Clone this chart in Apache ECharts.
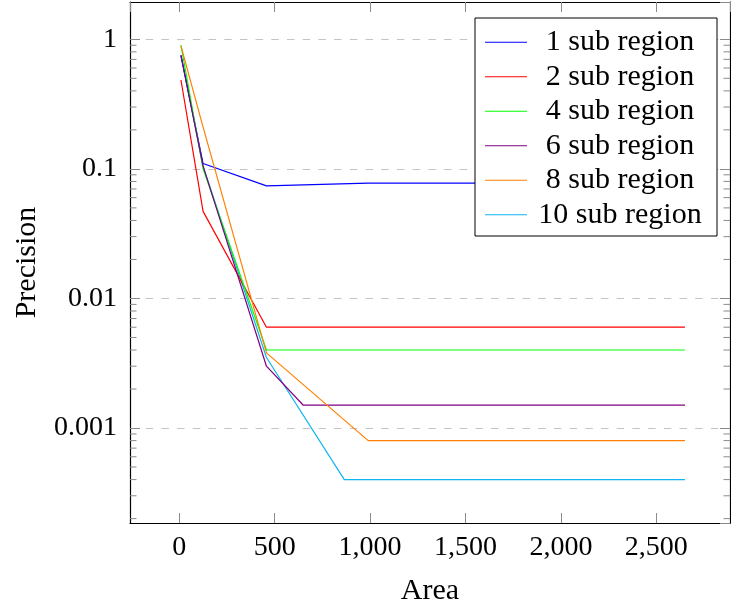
<!DOCTYPE html>
<html>
<head>
<meta charset="utf-8">
<script src="https://cdn.jsdelivr.net/npm/echarts@6/dist/echarts.min.js"></script>
<style>
  html, body { margin: 0; padding: 0; background: #fff; }
  #chart { width: 731px; height: 610px; }
</style>
</head>
<body>
<div id="chart"></div>
<script>
// Precision against window area, one line per number of sub regions
const seriesNames = ['1 sub region', '2 sub region', '4 sub region', '6 sub region', '8 sub region', '10 sub region'];
const seriesColors = ['#0000ff', '#ff0000', '#00ff00', '#800080', '#ff8000', '#10b4f0'];

const area1 = [9, 125, 457, 990, 2650];
const prec1 = [0.75, 0.11, 0.074, 0.0775, 0.0775];

const area2 = [9, 125, 457, 2650];
const prec2 = [0.485, 0.047, 0.006, 0.006];

const area4 = [9, 125, 457, 2650];
const prec4 = [0.9, 0.1, 0.004, 0.004];

const area6 = [9, 125, 457, 650, 2650];
const prec6 = [0.75, 0.105, 0.003, 0.0015, 0.0015];

const area8 = [9, 125, 457, 990, 2650];
const prec8 = [0.89, 0.21, 0.0038, 0.0008, 0.0008];

const area10 = [9, 125, 457, 865, 2650];
const prec10 = [0.75, 0.105, 0.0035, 0.0004, 0.0004];

// Axis ranges
const xMin = -258, xMax = 2886;
const yMin = 0.000185, yMax = 1.94;

// Minor ticks of the log axis: 2..9 within each decade
const minorMultipliers = [2, 3, 4, 5, 6, 7, 8, 9];
const minorDecades = [0.0001, 0.001, 0.01, 0.1, 1];

const FONT = 'Liberation Serif';
const FS = 28;      // tick labels
const FS_TEXT = 30; // axis names and legend entries

const areas = [area1, area2, area4, area6, area8, area10];
const precs = [prec1, prec2, prec4, prec6, prec8, prec10];

function pairs(xs, ys) {
  return xs.map((x, i) => [x, ys[i]]);
}

const minorTicks = [];
minorDecades.forEach(d => minorMultipliers.forEach(m => {
  const v = +(m * d).toPrecision(3);
  if (v > yMin && v < yMax) minorTicks.push([xMin, v]);
}));

const lineSeries = seriesNames.map((name, i) => ({
  name: name,
  type: 'line',
  data: pairs(areas[i], precs[i]),
  xAxisIndex: 0,
  yAxisIndex: 0,
  showSymbol: false,
  symbol: 'none',
  lineStyle: { color: seriesColors[i], width: 1.2 },
  itemStyle: { color: seriesColors[i] },
  z: i === 5 ? 1 : 2,
  animation: false
}));

const minorTickSeries = {
  type: 'custom',
  xAxisIndex: 0,
  yAxisIndex: 0,
  silent: true,
  z: 5,
  data: minorTicks,
  encode: { x: 0, y: 1 },
  renderItem: function (params, api) {
    const v = api.value(1);
    const pl = api.coord([xMin, v]);
    const pr = api.coord([xMax, v]);
    const st = { stroke: '#8a8a8a', lineWidth: 1 };
    return {
      type: 'group',
      children: [
        { type: 'line', shape: { x1: pl[0], y1: pl[1], x2: pl[0] + 6.5, y2: pl[1] }, style: st },
        { type: 'line', shape: { x1: pr[0] - 6.5, y1: pr[1], x2: pr[0], y2: pr[1] }, style: st }
      ]
    };
  }
};

const baseTick = { show: true, inside: true, length: 10, lineStyle: { color: '#8a8a8a', width: 1 } };
const frameLine = { show: true, onZero: false, lineStyle: { color: '#000', width: 1.2 } };

const chart = echarts.init(document.getElementById('chart'), null, { renderer: 'canvas' });
chart.setOption({
  animation: false,
  backgroundColor: '#fff',
  textStyle: { fontFamily: FONT },
  grid: { left: 130, right: 1, top: 2, bottom: 87, containLabel: false, outerBoundsMode: 'none' },
  legend: {
    data: seriesNames,
    orient: 'vertical',
    left: 475,
    top: 18,
    padding: [7, 13, 4, 10],
    itemGap: 0,
    itemWidth: 42,
    itemHeight: 1.2,
    icon: 'rect',
    backgroundColor: '#fff',
    borderColor: '#000',
    borderWidth: 1,
    borderRadius: 0,
    formatter: function (name) { return '{c|' + name + '}'; },
    textStyle: {
      fontFamily: FONT,
      fontSize: FS_TEXT,
      lineHeight: 34.5,
      color: '#000',
      padding: [0, 0, 0, 4],
      rich: {
        c: { fontFamily: FONT, fontSize: FS_TEXT, color: '#000', width: 168, align: 'center', lineHeight: 34.5, height: 34.5 }
      }
    }
  },
  xAxis: [
    {
      type: 'value',
      position: 'bottom',
      min: xMin,
      max: xMax,
      minInterval: 500,
      maxInterval: 500,
      axisLine: frameLine,
      axisTick: baseTick,
      axisLabel: { color: '#000', fontFamily: FONT, fontSize: FS, margin: 11, showMinLabel: false, showMaxLabel: false },
      splitLine: { show: false },
      name: 'Area',
      nameLocation: 'middle',
      nameGap: 53,
      nameTextStyle: { color: '#000', fontFamily: FONT, fontSize: FS_TEXT }
    },
    {
      type: 'value',
      position: 'top',
      min: xMin,
      max: xMax,
      minInterval: 500,
      maxInterval: 500,
      axisLine: frameLine,
      axisTick: baseTick,
      axisLabel: { show: false },
      splitLine: { show: false }
    }
  ],
  yAxis: [
    {
      type: 'log',
      logBase: 10,
      position: 'left',
      min: yMin,
      max: yMax,
      axisLine: frameLine,
      axisTick: baseTick,
      axisLabel: { color: '#000', fontFamily: FONT, fontSize: FS, margin: 13, showMinLabel: false, showMaxLabel: false },
      splitLine: {
        show: true,
        showMinLine: false,
        showMaxLine: false,
        lineStyle: { color: '#c4c4c4', width: 1, type: [7.5, 8.2] }
      },
      name: 'Precision',
      nameLocation: 'middle',
      nameRotate: 90,
      nameGap: 88,
      nameTextStyle: { color: '#000', fontFamily: FONT, fontSize: FS_TEXT }
    },
    {
      type: 'log',
      logBase: 10,
      position: 'right',
      min: yMin,
      max: yMax,
      axisLine: frameLine,
      axisTick: baseTick,
      axisLabel: { show: false },
      splitLine: { show: false }
    }
  ],
  series: lineSeries.concat([minorTickSeries])
});
</script>
</body>
</html>
